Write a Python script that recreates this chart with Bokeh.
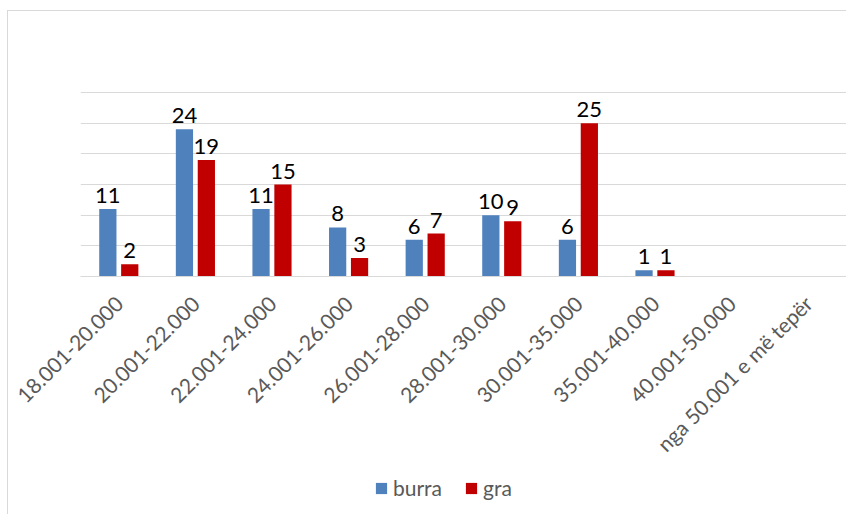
import math
from bokeh.plotting import figure
from bokeh.layouts import column
from bokeh.models import (ColumnDataSource, FactorRange, Range1d, Legend, LegendItem,
                          SingleIntervalTicker)
from bokeh.transform import dodge
from bokeh.core.properties import value
from bokeh.embed import file_html
from bokeh.resources import INLINE

categories = ["18.001-20.000", "20.001-22.000", "22.001-24.000", "24.001-26.000",
              "26.001-28.000", "28.001-30.000", "30.001-35.000", "35.001-40.000",
              "40.001-50.000", "nga 50.001 e më tepër"]
burra = [11, 24, 11, 8, 6, 10, 6, 1, 0, 0]
gra = [2, 19, 15, 3, 7, 9, 25, 1, 0, 0]
series_names = ["burra", "gra"]
colors = ["#4F81BD", "#C00000"]

src = ColumnDataSource(data=dict(
    cat=categories,
    burra=burra,
    gra=gra,
    burra_lbl=[str(v) if v > 0 else "" for v in burra],
    gra_lbl=[str(v) if v > 0 else "" for v in gra],
))

p = figure(width=846, height=476, x_range=FactorRange(factors=categories),
           y_range=Range1d(0, 30.5), output_backend="svg", toolbar_location=None,
           min_border_left=80, min_border_right=0, min_border_top=89, min_border_bottom=200)

offs = [-0.143, 0.143]
for name, off, col in zip(series_names, offs, colors):
    p.vbar(x=dodge("cat", off, range=p.x_range), top=name, width=0.225, source=src,
           fill_color=col, line_color=None)
    p.text(x=dodge("cat", off, range=p.x_range), y=name, text=name + "_lbl", source=src,
           text_align="center", text_baseline="bottom", y_offset=-6,
           text_font=value("Lato"), text_font_size="22px", text_color="#000000")

p.yaxis.visible = False
p.yaxis.ticker = SingleIntervalTicker(interval=5)
p.ygrid.ticker = SingleIntervalTicker(interval=5)
p.ygrid.grid_line_color = "#D9D9D9"
p.ygrid.grid_line_width = 1
p.xgrid.grid_line_color = None
p.outline_line_color = None
p.border_fill_color = None

xa = p.xaxis[0]
xa.axis_line_color = "#D9D9D9"
xa.axis_line_width = 1
xa.major_tick_line_color = None
xa.minor_tick_line_color = None
xa.major_label_orientation = math.pi / 4
xa.major_label_standoff = 17
xa.major_label_text_font = "Lato"
xa.major_label_text_font_size = "21px"
xa.major_label_text_color = "#595959"

# legend strip (swatch data lies outside the strip's visible range)
q = figure(width=846, height=38, x_range=Range1d(0, 1), y_range=Range1d(0, 1),
           output_backend="svg", toolbar_location=None,
           x_axis_location=None, y_axis_location=None, min_border=0)
q.grid.visible = False
q.outline_line_color = None
q.border_fill_color = None
q.background_fill_color = None
leg_renderers = []
for c in colors:
    s = ColumnDataSource(data=dict(x=[-5], top=[0]))
    leg_renderers.append(q.vbar(x="x", top="top", width=0.1, source=s,
                                fill_color=c, line_color=None))
legend = Legend(items=[LegendItem(label=n, renderers=[r]) for n, r in zip(series_names, leg_renderers)],
                orientation="horizontal", location=(294, 14),
                glyph_width=14, glyph_height=14, label_height=20, label_standoff=5,
                spacing=22, padding=0, margin=0, border_line_color=None,
                background_fill_alpha=0, label_text_font="Lato",
                label_text_font_size="21px", label_text_color="#595959")
q.add_layout(legend, "center")

layout = column(p, q, spacing=0,
                styles={"box-shadow": "inset 7px 10px 0 0 #ffffff, inset 8px 11px 0 0 #D9D9D9"})

open("out.html", "w").write(file_html(layout, INLINE))
